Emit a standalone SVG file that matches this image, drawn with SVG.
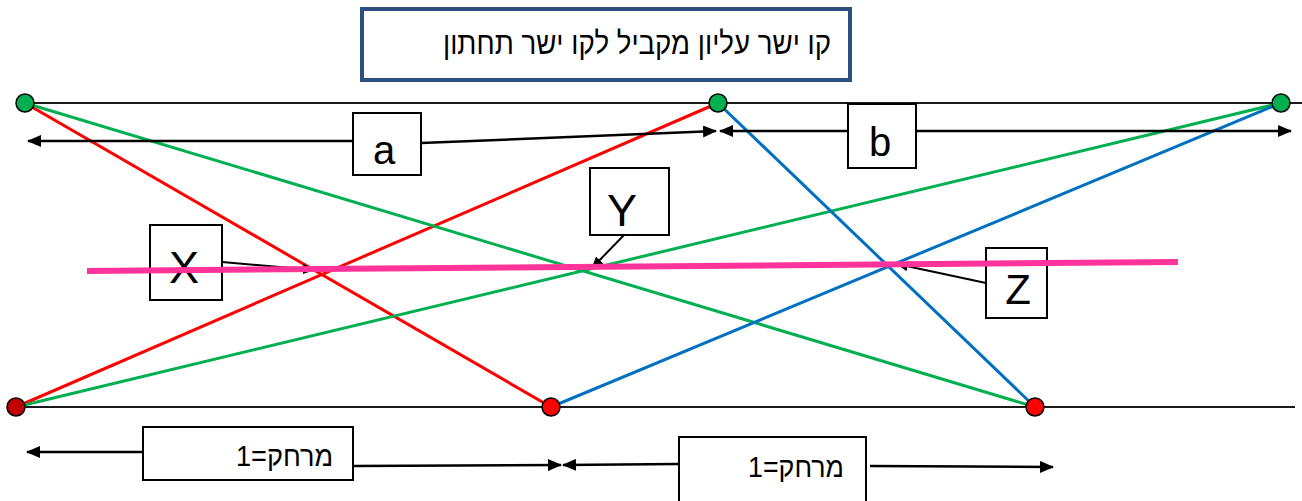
<svg xmlns="http://www.w3.org/2000/svg" width="1302" height="501" viewBox="0 0 1302 501">
<defs>
<marker id="ah" markerUnits="userSpaceOnUse" markerWidth="14" markerHeight="12" refX="13" refY="6" orient="auto">
<path d="M0,0 L14,6 L0,12 z" fill="#000"/>
</marker>
<marker id="ahs" markerUnits="userSpaceOnUse" markerWidth="12" markerHeight="10" refX="11" refY="5" orient="auto">
<path d="M0,0 L12,5 L0,10 z" fill="#000"/>
</marker>
<style>
.base{stroke:#1a1a1a;stroke-width:2;fill:none}
.red{stroke:#FF0000;stroke-width:3;fill:none}
.green{stroke:#00B050;stroke-width:3;fill:none}
.blue{stroke:#0070C0;stroke-width:3;fill:none}
.pink{stroke:#FF3399;stroke-width:6;fill:none}
.arr{stroke:#000;stroke-width:2.5;fill:none;marker-end:url(#ah)}
.call{stroke:#000;stroke-width:2;fill:none;marker-end:url(#ahs)}
.box{fill:#fff;stroke:#000;stroke-width:2}
.gdot{fill:#00B050;stroke:#000;stroke-width:1.5}
.rdot{fill:#FF0000;stroke:#000;stroke-width:1.5}
.drdot{fill:#C00000;stroke:#000;stroke-width:1.5}
.lbl{font-family:"Liberation Sans",Arial,sans-serif;fill:#000;text-anchor:middle}
.heb{font-family:"Liberation Sans","DejaVu Sans",sans-serif;fill:#000;text-anchor:end}
</style>
</defs>
<rect width="1302" height="501" fill="#fff"/>

<g id="title">
<rect x="362" y="9" width="488" height="71" fill="#fff" stroke="#2B4F81" stroke-width="4"/>
<text class="heb" x="831" y="54" font-size="31" textLength="388" lengthAdjust="spacingAndGlyphs">קו ישר עליון מקביל לקו ישר תחתון</text>
</g>

<g id="parallel-lines">
<line class="base" x1="25" y1="103" x2="1302" y2="103"/>
<line class="base" x1="16" y1="407" x2="1295" y2="407"/>
</g>

<g id="connectors">
<line class="red" x1="25" y1="103" x2="551" y2="407"/>
<line class="red" x1="16" y1="407" x2="718" y2="103"/>
<line class="green" x1="25" y1="103" x2="1035" y2="407"/>
<line class="green" x1="16" y1="407" x2="1281" y2="103"/>
<line class="blue" x1="718" y1="103" x2="1035" y2="407"/>
<line class="blue" x1="551" y1="407" x2="1281" y2="103"/>

<line class="arr" x1="352" y1="141" x2="28" y2="141"/>
<line class="arr" x1="421" y1="143" x2="716" y2="131"/>
<line class="arr" x1="848" y1="131" x2="720" y2="131"/>
<line class="arr" x1="916" y1="131" x2="1291" y2="131"/>

<line class="arr" x1="143" y1="452" x2="27" y2="452"/>
<line class="arr" x1="353" y1="466" x2="561" y2="465"/>
<line class="arr" x1="678" y1="464" x2="563" y2="465"/>
<line class="arr" x1="870" y1="466" x2="1053" y2="467"/>

<line class="call" x1="222" y1="262" x2="314" y2="270"/>
<line class="call" x1="624" y1="235" x2="592" y2="268"/>
<line class="call" x1="986" y1="283" x2="897" y2="264"/>
</g>

<g id="node-top-left"><ellipse class="gdot" cx="25" cy="103" rx="9" ry="9"/></g>
<g id="node-top-mid"><ellipse class="gdot" cx="718" cy="103" rx="9" ry="9"/></g>
<g id="node-top-right"><ellipse class="gdot" cx="1281" cy="103" rx="9" ry="9"/></g>
<g id="node-bot-left"><ellipse class="drdot" cx="16" cy="407" rx="9" ry="9"/></g>
<g id="node-bot-mid"><ellipse class="rdot" cx="551" cy="407" rx="9" ry="9"/></g>
<g id="node-bot-right"><ellipse class="rdot" cx="1035" cy="407" rx="9" ry="9"/></g>

<g id="box-a">
<rect class="box" x="353" y="113" width="68" height="62"/>
<text class="lbl" x="384" y="164" font-size="40">a</text>
</g>
<g id="box-b">
<rect class="box" x="848" y="104" width="68" height="64"/>
<text class="lbl" x="880" y="156" font-size="40">b</text>
</g>
<g id="box-x">
<rect class="box" x="150" y="225" width="72" height="75"/>
<text class="lbl" x="184" y="283" font-size="45">X</text>
</g>
<g id="box-y">
<rect class="box" x="590" y="168" width="79" height="67"/>
<text class="lbl" x="622" y="226" font-size="45">Y</text>
</g>
<g id="box-z">
<rect class="box" x="986" y="248" width="61" height="70"/>
<text class="lbl" x="1018" y="304" font-size="42">Z</text>
</g>
<g id="box-dist1">
<rect class="box" x="143" y="427" width="210" height="53"/>
<text class="heb" x="333" y="466" font-size="29" textLength="97" lengthAdjust="spacingAndGlyphs">מרחק=1</text>
</g>
<g id="box-dist2">
<rect class="box" x="679" y="437" width="187" height="70"/>
<text class="heb" x="844" y="477" font-size="29" textLength="96" lengthAdjust="spacingAndGlyphs">מרחק=1</text>
</g>

<g id="pink-line">
<line class="pink" x1="87" y1="271" x2="1178" y2="262"/>
</g>
</svg>
